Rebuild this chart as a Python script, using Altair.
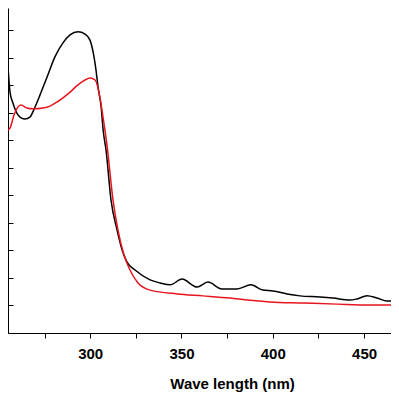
import altair as alt
import pandas as pd

# Black spectrum (wavelength nm, absorbance)
black_wl = [255.0, 256.1, 257.7, 260.5, 264.3, 267.0, 269.8, 272.5, 276.4, 280.7,
            285.1, 289.0, 293.3, 297.2, 299.9, 301.6, 303.2, 304.3, 306.0, 307.1,
            308.7, 311.4, 314.7, 317.5, 320.2, 324.6, 332.8, 338.3, 343.8, 350.3,
            358.5, 364.5, 372.2, 380.4, 388.1, 394.6, 400.1, 407.8, 414.9, 425.8,
            433.0, 442.3, 446.1, 451.6, 457.1, 462.6, 469.1]
black_ab = [0.967, 0.876, 0.836, 0.793, 0.778, 0.785, 0.822, 0.865, 0.931, 1.004,
            1.055, 1.084, 1.095, 1.087, 1.065, 1.022, 0.956, 0.895, 0.822, 0.738,
            0.665, 0.484, 0.375, 0.302, 0.258, 0.229, 0.193, 0.182, 0.175, 0.196,
            0.167, 0.185, 0.160, 0.160, 0.175, 0.156, 0.153, 0.142, 0.135, 0.131,
            0.127, 0.120, 0.124, 0.135, 0.127, 0.116, 0.116]

# Red spectrum
red_wl = [255.0, 256.1, 258.3, 262.1, 265.4, 268.7, 274.2, 278.0, 281.9, 285.1,
          289.0, 293.3, 297.2, 299.9, 302.7, 305.4, 307.1, 308.1, 309.2, 312.5,
          315.2, 318.5, 321.8, 326.2, 332.8, 347.6, 361.8, 376.6, 385.9, 398.5,
          416.6, 435.2, 453.2, 469.1]
red_ab = [0.738, 0.745, 0.793, 0.829, 0.818, 0.815, 0.818, 0.825, 0.840, 0.855,
          0.876, 0.902, 0.920, 0.927, 0.920, 0.855, 0.782, 0.738, 0.684, 0.484,
          0.375, 0.284, 0.229, 0.182, 0.156, 0.142, 0.135, 0.127, 0.120, 0.113,
          0.109, 0.105, 0.102, 0.102]

x_ticks = [275, 300, 325, 350, 375, 400, 425, 450]
y_ticks = [0.0, 0.1, 0.2, 0.3, 0.4, 0.5, 0.6, 0.7, 0.8, 0.9, 1.0, 1.1]

df = pd.concat([
    pd.DataFrame({"wl": black_wl, "ab": black_ab, "s": "black", "o": range(len(black_wl))}),
    pd.DataFrame({"wl": red_wl, "ab": red_ab, "s": "red", "o": range(len(red_wl))}),
])

FONT = "Liberation Sans"

x = alt.X("wl:Q", scale=alt.Scale(domain=[255, 464.75], nice=False, zero=False),
          axis=alt.Axis(values=x_ticks,
                        labelExpr="datum.value % 50 == 0 ? datum.label : ''",
                        title="Wave length (nm)", grid=False,
                        tickSize=5, tickColor="black", domainColor="black",
                        labelFont=FONT, labelFontWeight="bold", labelFontSize=15,
                        labelColor="black", labelPadding=8, labelFlush=False,
                        titleFont=FONT, titleFontWeight="bold", titleFontSize=15,
                        titleColor="black", titleX=224, titleY=55,
                        titleAlign="center", titleBaseline="alphabetic"))
y = alt.Y("ab:Q", scale=alt.Scale(domain=[0, 1.1818], nice=False),
          axis=alt.Axis(values=y_ticks, labels=False, ticks=False, title=None,
                        grid=True, gridColor="black", gridDash=[5, 3000],
                        gridWidth=1, domainColor="black"))

chart = alt.Chart(df).mark_line(strokeWidth=1.5, interpolate="monotone", clip=True).encode(
    x=x, y=y,
    color=alt.Color("s:N", scale=alt.Scale(domain=["black", "red"], range=["#000000", "#e8141e"]),
                    legend=None),
    order="o:Q",
).properties(
    width=383, height=325,
    autosize=alt.AutoSizeParams(type="none"),
    padding={"left": 0, "top": 0, "right": 0, "bottom": 60},
).configure_view(stroke=None)

chart.save("out.html", embed_options={"renderer": "svg", "actions": False})
